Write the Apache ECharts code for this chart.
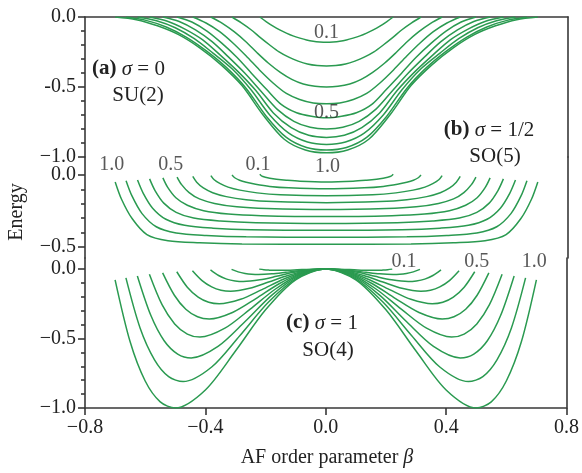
<!DOCTYPE html>
<html><head><meta charset="utf-8">
<script src="https://cdn.jsdelivr.net/npm/echarts@6/dist/echarts.min.js"></script>
<style>html,body{margin:0;padding:0;background:#fff}#c{width:582px;height:473px}</style>
</head><body><div id="c"></div>
<script>
// ---------- data ----------
const curveParams = ['0.1','0.2','0.3','0.4','0.5','0.6','0.7','0.8','0.9','1.0'];
const xTickValues = [-0.8, -0.4, 0, 0.4, 0.8];
const xTickLabels = ['\u22120.8', '\u22120.4', '0.0', '0.4', '0.8'];
const yMajorA = [0, -0.5, -1.0];
const yLabelsA = ['0.0', '-0.5', '\u22121.0'];
const yMinorA = [-0.1, -0.2, -0.3, -0.4, -0.6, -0.7, -0.8, -0.9];
const yMajorB = [0, -0.5];
const yLabelsB = ['0.0', '\u22120.5'];
const yMinorB = [-0.1, -0.2, -0.3, -0.4];
const yMajorC = [0, -0.5, -1.0];
const yLabelsC = ['0.0', '\u22120.5', '\u22121.0'];
const yMinorC = [-0.1, -0.2, -0.3, -0.4, -0.6, -0.7, -0.8, -0.9];

// half curves (beta >= 0); curves are symmetric in beta
const panelA = [
  [[0,-0.180],[0.022,-0.178],[0.044,-0.173],[0.066,-0.164],[0.088,-0.151],[0.111,-0.135],[0.133,-0.115],[0.155,-0.092],[0.177,-0.065],[0.199,-0.034],[0.221,0]],
  [[0,-0.350],[0.031,-0.347],[0.063,-0.336],[0.094,-0.315],[0.125,-0.287],[0.157,-0.249],[0.188,-0.200],[0.219,-0.147],[0.250,-0.091],[0.282,-0.042],[0.313,0]],
  [[0,-0.500],[0.038,-0.495],[0.077,-0.478],[0.115,-0.445],[0.153,-0.395],[0.192,-0.330],[0.230,-0.255],[0.268,-0.175],[0.306,-0.105],[0.345,-0.045],[0.383,0]],
  [[0,-0.620],[0.044,-0.614],[0.089,-0.589],[0.133,-0.546],[0.177,-0.471],[0.222,-0.378],[0.266,-0.279],[0.310,-0.186],[0.354,-0.105],[0.399,-0.043],[0.443,0]],
  [[0,-0.720],[0.050,-0.709],[0.099,-0.684],[0.149,-0.626],[0.198,-0.518],[0.248,-0.403],[0.297,-0.288],[0.347,-0.187],[0.396,-0.101],[0.446,-0.036],[0.495,0]],
  [[0,-0.800],[0.054,-0.788],[0.108,-0.745],[0.163,-0.660],[0.217,-0.530],[0.271,-0.400],[0.325,-0.285],[0.379,-0.176],[0.434,-0.092],[0.488,-0.032],[0.542,0]],
  [[0,-0.860],[0.059,-0.845],[0.117,-0.790],[0.176,-0.685],[0.234,-0.525],[0.293,-0.390],[0.352,-0.272],[0.410,-0.163],[0.469,-0.086],[0.527,-0.030],[0.586,0]],
  [[0,-0.910],[0.063,-0.893],[0.125,-0.830],[0.188,-0.700],[0.250,-0.520],[0.313,-0.370],[0.376,-0.258],[0.438,-0.155],[0.501,-0.077],[0.563,-0.027],[0.626,0]],
  [[0,-0.950],[0.066,-0.932],[0.133,-0.860],[0.199,-0.710],[0.266,-0.510],[0.332,-0.360],[0.398,-0.242],[0.465,-0.143],[0.531,-0.071],[0.598,-0.024],[0.664,0]],
  [[0,-0.970],[0.070,-0.950],[0.140,-0.873],[0.210,-0.700],[0.280,-0.490],[0.350,-0.340],[0.420,-0.220],[0.490,-0.126],[0.560,-0.063],[0.630,-0.019],[0.700,0]]
];
const panelB = [
  [[0,-0.048],[0.088,-0.043],[0.133,-0.036],[0.166,-0.029],[0.188,-0.022],[0.203,-0.015],[0.214,-0.008],[0.221,0.005]],
  [[0,-0.096],[0.125,-0.089],[0.188,-0.079],[0.235,-0.064],[0.266,-0.050],[0.288,-0.036],[0.304,-0.019],[0.313,0]],
  [[0,-0.144],[0.153,-0.137],[0.230,-0.124],[0.287,-0.105],[0.326,-0.084],[0.352,-0.060],[0.372,-0.033],[0.383,-0.004]],
  [[0,-0.192],[0.177,-0.184],[0.266,-0.171],[0.332,-0.150],[0.377,-0.123],[0.408,-0.090],[0.430,-0.050],[0.443,-0.010]],
  [[0,-0.240],[0.198,-0.233],[0.297,-0.221],[0.371,-0.197],[0.421,-0.166],[0.455,-0.122],[0.480,-0.067],[0.495,-0.014]],
  [[0,-0.288],[0.217,-0.282],[0.325,-0.271],[0.407,-0.248],[0.461,-0.210],[0.499,-0.158],[0.526,-0.086],[0.542,-0.020]],
  [[0,-0.336],[0.234,-0.331],[0.352,-0.319],[0.440,-0.299],[0.498,-0.259],[0.539,-0.195],[0.568,-0.108],[0.586,-0.027]],
  [[0,-0.384],[0.250,-0.380],[0.376,-0.369],[0.470,-0.349],[0.532,-0.307],[0.576,-0.230],[0.607,-0.127],[0.626,-0.035]],
  [[0,-0.432],[0.266,-0.429],[0.398,-0.419],[0.498,-0.402],[0.564,-0.359],[0.611,-0.268],[0.644,-0.147],[0.664,-0.039]],
  [[0,-0.480],[0.280,-0.478],[0.420,-0.470],[0.525,-0.456],[0.595,-0.413],[0.644,-0.302],[0.679,-0.168],[0.700,-0.048]]
];
const panelC = [
  [[0,0],[0.032,-0.001],[0.063,-0.003],[0.095,-0.006],[0.126,-0.009],[0.158,-0.010],[0.174,-0.010],[0.190,-0.008],[0.206,-0.005],[0.221,-0.001]],
  [[0,0],[0.045,-0.003],[0.089,-0.012],[0.134,-0.024],[0.179,-0.035],[0.224,-0.040],[0.246,-0.038],[0.268,-0.032],[0.291,-0.021],[0.313,-0.003]],
  [[0,0],[0.055,-0.007],[0.110,-0.026],[0.164,-0.053],[0.219,-0.078],[0.274,-0.090],[0.301,-0.086],[0.329,-0.073],[0.356,-0.047],[0.383,-0.007]],
  [[0,0],[0.063,-0.013],[0.126,-0.047],[0.190,-0.094],[0.253,-0.139],[0.316,-0.160],[0.348,-0.153],[0.379,-0.129],[0.411,-0.084],[0.443,-0.013]],
  [[0,0],[0.071,-0.020],[0.141,-0.074],[0.212,-0.148],[0.283,-0.218],[0.354,-0.250],[0.389,-0.239],[0.424,-0.202],[0.460,-0.131],[0.495,-0.020]],
  [[0,0],[0.077,-0.028],[0.155,-0.106],[0.232,-0.213],[0.310,-0.313],[0.387,-0.360],[0.426,-0.344],[0.465,-0.290],[0.503,-0.189],[0.542,-0.028]],
  [[0,0],[0.084,-0.038],[0.167,-0.144],[0.251,-0.289],[0.335,-0.426],[0.418,-0.490],[0.460,-0.468],[0.502,-0.395],[0.544,-0.257],[0.586,-0.038]],
  [[0,0],[0.089,-0.050],[0.179,-0.188],[0.268,-0.378],[0.358,-0.557],[0.447,-0.640],[0.492,-0.612],[0.537,-0.516],[0.581,-0.335],[0.626,-0.050]],
  [[0,0],[0.095,-0.064],[0.190,-0.238],[0.285,-0.478],[0.379,-0.705],[0.474,-0.810],[0.522,-0.774],[0.569,-0.653],[0.617,-0.424],[0.664,-0.064]],
  [[0,0],[0.100,-0.078],[0.200,-0.294],[0.300,-0.590],[0.400,-0.870],[0.500,-1.000],[0.550,-0.956],[0.600,-0.806],[0.650,-0.524],[0.700,-0.078]]
];

// curve labels
const labelsAText = ['0.1', '0.5'];
const labelsABeta = [0, 0];
const labelsAE = [-0.111, -0.686];
const labelsBText = ['1.0', '0.5', '0.1', '1.0'];
const labelsBBeta = [-0.711, -0.516, -0.227, 0.003];
const labelsBE = [0.069, 0.069, 0.069, 0.056];
const labelsCText = ['0.1', '0.5', '1.0'];
const labelsCBeta = [0.26, 0.502, 0.693];
const labelsCE = [0.05, 0.05, 0.05];

// ---------- build ----------
const FONT = 'Liberation Serif, Times New Roman, serif';
const AXC = '#383838';
const GREEN = '#2a9a50';
const grids = [
  {left: 85, right: 14, top: 17, height: 140},
  {left: 85, right: 14, top: 157, height: 101},
  {left: 85, right: 14, top: 258, height: 150}
];
const yRanges = [[-1.0, 0], [-0.576, 0.125], [-1.0, 0.079]];
const majors = [yMajorA, yMajorB, yMajorC];
const majorLabels = [yLabelsA, yLabelsB, yLabelsC];
const minors = [yMinorA, yMinorB, yMinorC];

function lookup(vals, labs) {
  return v => { const i = vals.findIndex(t => Math.abs(t - v) < 1e-6); return i >= 0 ? labs[i] : ''; };
}
const lineStyle = {color: AXC, width: 1.6};
const xAxes = [
  {gridIndex: 0, type: 'value', min: -0.8, max: 0.8, position: 'top',
   axisLine: {show: true, onZero: false, lineStyle}, axisTick: {show: false}, axisLabel: {show: false}, splitLine: {show: false}},
  {gridIndex: 1, type: 'value', min: -0.8, max: 0.8, show: false, axisLine: {onZero: false}},
  {gridIndex: 2, type: 'value', min: -0.8, max: 0.8, position: 'bottom',
   axisLine: {show: true, onZero: false, lineStyle},
   axisTick: {show: true, length: 7, customValues: xTickValues, lineStyle},
   axisLabel: {customValues: xTickValues, formatter: lookup(xTickValues, xTickLabels), margin: 10,
               fontFamily: FONT, fontSize: 20, color: '#222'},
   splitLine: {show: false}}
];
const yAxes = [];
for (let i = 0; i < 3; i++) {
  const [mn, mx] = yRanges[i];
  yAxes.push({gridIndex: i, type: 'value', min: mn, max: mx, position: 'left',
    axisLine: {show: true, onZero: false, lineStyle},
    axisTick: {show: true, length: 7, customValues: majors[i], lineStyle},
    axisLabel: {customValues: majors[i], formatter: lookup(majors[i], majorLabels[i]), margin: 9,
                fontFamily: FONT, fontSize: 20, color: '#222'},
    splitLine: {show: false}});
  yAxes.push({gridIndex: i, type: 'value', min: mn, max: mx, position: 'left',
    axisLine: {show: false, onZero: false},
    axisTick: {show: true, length: 4, customValues: minors[i], lineStyle},
    axisLabel: {show: false}, splitLine: {show: false}});
  yAxes.push({gridIndex: i, type: 'value', min: mn, max: mx, position: 'right',
    axisLine: {show: true, onZero: false, lineStyle},
    axisTick: {show: false}, axisLabel: {show: false}, splitLine: {show: false}});
}

function mirror(half) {
  const left = half.slice(1).reverse().map(p => [-p[0], p[1]]);
  return left.concat(half.map(p => [p[0], p[1]]));
}
const series = [];
[panelA, panelB, panelC].forEach((panel, gi) => {
  panel.forEach((half, k) => {
    series.push({type: 'line', name: curveParams[k], xAxisIndex: gi, yAxisIndex: gi * 3,
      data: mirror(half), showSymbol: false, smooth: 0.3, silent: true,
      lineStyle: {color: GREEN, width: 1.5}});
  });
});
function labelSeries(gi, texts, betas, es) {
  return {type: 'scatter', xAxisIndex: gi, yAxisIndex: gi * 3, symbolSize: 0, silent: true, clip: false, z: 5,
    data: texts.map((t, i) => ({name: t, value: [betas[i], es[i]]})),
    label: {show: true, position: 'inside', formatter: '{b}', fontFamily: FONT, fontSize: 20, color: '#2e2e2e'}};
}
series.push(labelSeries(0, labelsAText, labelsABeta, labelsAE));
series.push(labelSeries(1, labelsBText, labelsBBeta, labelsBE));
series.push(labelSeries(2, labelsCText, labelsCBeta, labelsCE));

function richText(x, y, text, align, size) {
  const fs = size || 21;
  const base = {fontFamily: FONT, fontSize: fs, fill: '#222'};
  return {type: 'text', x, y, silent: true,
    style: {text, font: fs + 'px ' + FONT, fill: '#222', align: align || 'center', verticalAlign: 'middle',
      rich: {b: Object.assign({fontWeight: 'bold'}, base), i: Object.assign({fontStyle: 'italic'}, base), n: base}}};
}
const graphics = [
  richText(92, 69, '{b|(a)}{n| }{i|\u03c3}{n| = 0}', 'left'),
  richText(138, 95, '{n|SU(2)}'),
  richText(489, 130, '{b|(b)}{n| }{i|\u03c3}{n| = 1/2}'),
  richText(495, 156, '{n|SO(5)}'),
  richText(322, 323, '{b|(c)}{n| }{i|\u03c3}{n| = 1}'),
  richText(328, 350, '{n|SO(4)}'),
  {type: 'text', x: 17, y: 212, rotation: Math.PI / 2, silent: true,
   style: {text: 'Energy', font: '20px ' + FONT, fill: '#222', align: 'center', verticalAlign: 'middle'}},
  richText(327, 458, '{n|AF order parameter }{i|\u03b2}', 'center', 20)
];

const chart = echarts.init(document.getElementById('c'), null, {renderer: 'canvas'});
chart.setOption({
  animation: false,
  backgroundColor: '#fff',
  grid: grids,
  xAxis: xAxes,
  yAxis: yAxes,
  series,
  graphic: graphics
});
</script></body></html>
